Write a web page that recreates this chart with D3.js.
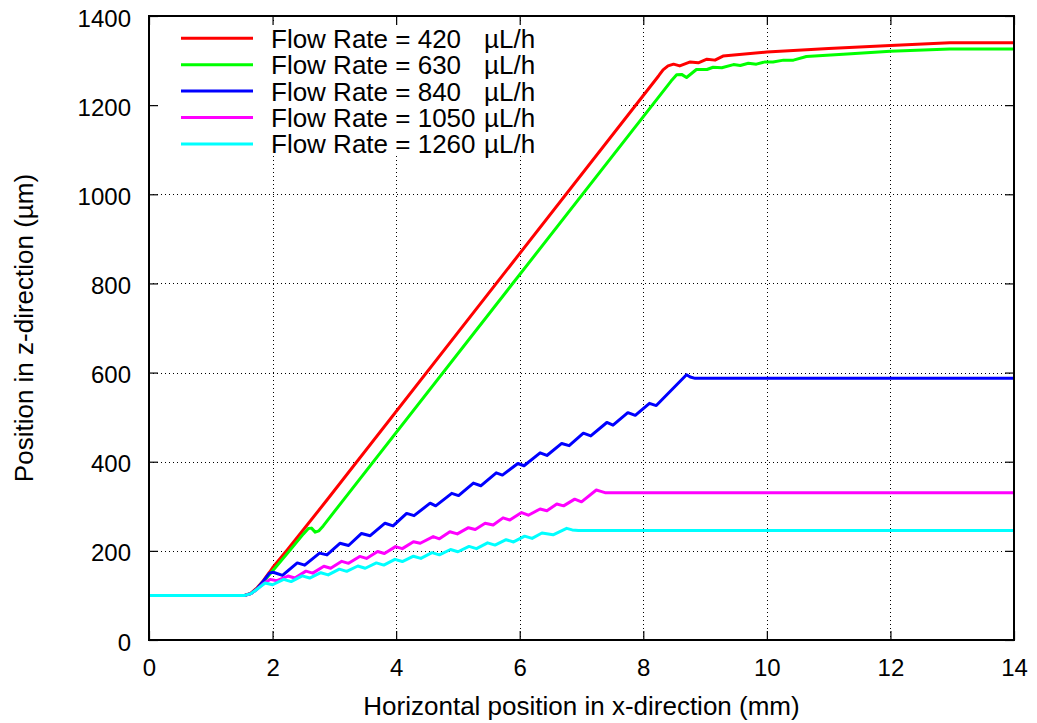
<!DOCTYPE html>
<html>
<head>
<meta charset="utf-8">
<script src="https://cdn.jsdelivr.net/npm/d3@7"></script>
<style>
  html, body { margin: 0; padding: 0; background: #fff; }
  svg { display: block; font-family: "Liberation Sans", Arial, Helvetica, sans-serif; }
</style>
</head>
<body>
<svg id="chart" width="1037" height="723"></svg>
<script>
// Trajectories: [x (mm), z (µm)]
const flow420 = [[0,100],[1.5,100],[1.55,100],[1.65,105],[1.75,117],[1.85,133],[1.95,152],[2.0,162],[2.25,204],[2.88,314],[8.25,1266],[8.32,1279],[8.40,1288],[8.49,1292],[8.59,1288],[8.76,1297],[8.89,1295],[9.03,1303],[9.16,1301],[9.29,1310],[10.0,1319],[11.0,1327],[12.0,1334],[12.96,1340],[14,1340]];
const flow630 = [[0,100],[1.55,100],[1.65,104],[1.75,115],[1.85,130],[1.95,147],[2.05,163],[2.25,196],[2.50,238],[2.58,250],[2.63,251],[2.69,242],[2.75,245],[2.82,256],[3.145,314],[8.45,1254],[8.54,1268],[8.62,1269],[8.70,1262],[8.78,1271],[8.86,1280],[9.03,1280],[9.13,1285],[9.27,1284],[9.46,1291],[9.57,1289],[9.70,1294],[9.83,1292],[9.97,1297],[10.10,1297],[10.27,1301],[10.43,1301],[10.64,1309],[11.3,1315],[12.0,1321],[12.96,1326],[14,1326]];
const flow840 = [[0,100],[1.55,100],[1.65,104],[1.75,115],[1.85,132],[1.95,150],[2.01,152],[2.16,145],[2.40,173],[2.52,168],[2.76,195],[2.88,191],[3.09,217],[3.23,212],[3.44,239],[3.58,234],[3.82,262],[3.95,256],[4.17,284],[4.29,279],[4.55,307],[4.64,301],[4.90,329],[5.01,324],[5.25,352],[5.37,346],[5.62,375],[5.72,370],[5.97,396],[6.07,391],[6.33,420],[6.44,414],[6.68,441],[6.80,436],[7.03,464],[7.15,458],[7.41,488],[7.51,482],[7.75,510],[7.87,504],[8.10,531],[8.21,526],[8.70,595],[8.76,590],[8.84,587],[14,587]];
const flow1050 = [[0,100],[1.55,100],[1.65,104],[1.75,114],[1.85,126],[1.96,136],[2.07,133],[2.25,143.5],[2.36,139],[2.54,154.5],[2.65,150],[2.83,165.5],[2.94,161],[3.12,176.5],[3.23,172],[3.41,187.5],[3.52,183],[3.70,198.5],[3.81,194],[3.99,209.5],[4.10,205],[4.28,220.5],[4.39,217],[4.60,232],[4.70,227],[4.87,243],[4.99,238],[5.17,252],[5.28,248],[5.44,262],[5.57,258],[5.73,274],[5.84,269],[6.03,286],[6.14,280],[6.33,294],[6.44,290],[6.60,305],[6.71,301],[6.89,316],[7.00,310],[7.24,336.5],[7.30,334],[7.38,330.5],[14,330.5]];
const flow1260 = [[0,100],[1.55,100],[1.65,104],[1.75,114],[1.88,128],[2.00,124],[2.18,136],[2.30,131],[2.48,144],[2.60,139],[2.78,151],[2.90,146],[3.08,159],[3.20,154],[3.38,166],[3.50,161],[3.68,173],[3.80,168],[3.98,181],[4.10,176],[4.28,188],[4.40,183],[4.58,196],[4.70,191],[4.88,203],[5.00,198],[5.18,210],[5.30,205],[5.48,218],[5.60,213],[5.78,225],[5.90,220],[6.08,233],[6.20,228],[6.36,240],[6.54,236],[6.76,250.5],[6.85,247],[6.95,245.5],[14,245.5]];

const flowRates = ["420", "630", "840", "1050", "1260"];
const seriesData = [flow420, flow630, flow840, flow1050, flow1260];
const seriesColors = ["#ff0000", "#00ff00", "#0000ff", "#ff00ff", "#00ffff"];
const xTicks = [0, 2, 4, 6, 8, 10, 12, 14];
const yTicks = [0, 200, 400, 600, 800, 1000, 1200, 1400];

const plotLeft = 149, plotRight = 1014, plotTop = 16, plotBottom = 640;
const svg = d3.select("#chart");

const x = d3.scaleLinear().domain([0, 14]).range([plotLeft, plotRight]);
const y = d3.scaleLinear().domain([0, 1400]).range([plotBottom, plotTop]);

// dotted grid
const grid = svg.append("g").attr("stroke", "#000").attr("stroke-width", 1)
  .attr("stroke-dasharray", "1.3,2.7").attr("shape-rendering", "crispEdges");
grid.selectAll("line.v").data(xTicks.slice(1, -1)).join("line").attr("class", "v")
  .attr("x1", d => Math.round(x(d)) + 0.5).attr("x2", d => Math.round(x(d)) + 0.5)
  .attr("y1", plotTop).attr("y2", plotBottom);
grid.selectAll("line.h").data(yTicks.slice(1, -1)).join("line").attr("class", "h")
  .attr("y1", d => Math.round(y(d)) + 0.5).attr("y2", d => Math.round(y(d)) + 0.5)
  .attr("x1", plotLeft).attr("x2", plotRight);

// opaque key box
svg.append("rect").attr("x", 160).attr("y", 22).attr("width", 458).attr("height", 134).attr("fill", "#fff");

// axes with inward ticks on all four sides
const tickLen = 9;
const fmt = d3.format("d");
const gx = svg.append("g").attr("transform", `translate(0,${plotBottom})`)
  .call(d3.axisBottom(x).tickValues(xTicks).tickFormat(fmt).tickSize(-tickLen).tickPadding(19));
const gxTop = svg.append("g").attr("transform", `translate(0,${plotTop})`)
  .call(d3.axisTop(x).tickValues(xTicks).tickSize(-tickLen).tickFormat(""));
const gy = svg.append("g").attr("transform", `translate(${plotLeft},0)`)
  .call(d3.axisLeft(y).tickValues(yTicks).tickFormat(fmt).tickSize(-tickLen).tickPadding(18));
const gyRight = svg.append("g").attr("transform", `translate(${plotRight},0)`)
  .call(d3.axisRight(y).tickValues(yTicks).tickSize(-tickLen).tickFormat(""));

[gx, gxTop, gy, gyRight].forEach(g => {
  g.select(".domain").remove();
  g.selectAll(".tick line").attr("stroke", "#000").attr("stroke-width", 1.2);
  g.selectAll("text").attr("font-family", null).attr("font-size", 24).attr("fill", "#000");
});
gy.selectAll("text").attr("dy", "0.42em");

// data lines
const line = d3.line().x(d => x(d[0])).y(d => y(d[1]));
svg.append("g").selectAll("path").data(seriesData).join("path")
  .attr("d", line)
  .attr("fill", "none")
  .attr("stroke", (d, i) => seriesColors[i])
  .attr("stroke-width", 3)
  .attr("stroke-linejoin", "round");

// frame
svg.append("rect").attr("x", plotLeft).attr("y", plotTop)
  .attr("width", plotRight - plotLeft).attr("height", plotBottom - plotTop)
  .attr("fill", "none").attr("stroke", "#000").attr("stroke-width", 2);

// key
const key = svg.append("g");
const keyRows = key.selectAll("g").data(flowRates).join("g")
  .attr("transform", (d, i) => `translate(0,${38.3 + i * 26.4})`);
keyRows.append("line").attr("x1", 181).attr("x2", 253).attr("y1", 0).attr("y2", 0)
  .attr("stroke", (d, i) => seriesColors[i]).attr("stroke-width", 3);
keyRows.append("text").attr("x", 271).attr("y", 9.4).attr("font-size", 26)
  .text(d => `Flow Rate = ${d}`);
keyRows.append("text").attr("x", 484).attr("y", 9.4).attr("font-size", 26)
  .text("µL/h");

// axis titles
svg.append("text").attr("x", (plotLeft + plotRight) / 2).attr("y", 715)
  .attr("text-anchor", "middle").attr("font-size", 26)
  .text("Horizontal position in x-direction (mm)");
svg.append("text").attr("transform", `translate(33,${(plotTop + plotBottom) / 2}) rotate(-90)`)
  .attr("text-anchor", "middle").attr("font-size", 26)
  .text("Position in z-direction (µm)");
</script>
</body>
</html>
